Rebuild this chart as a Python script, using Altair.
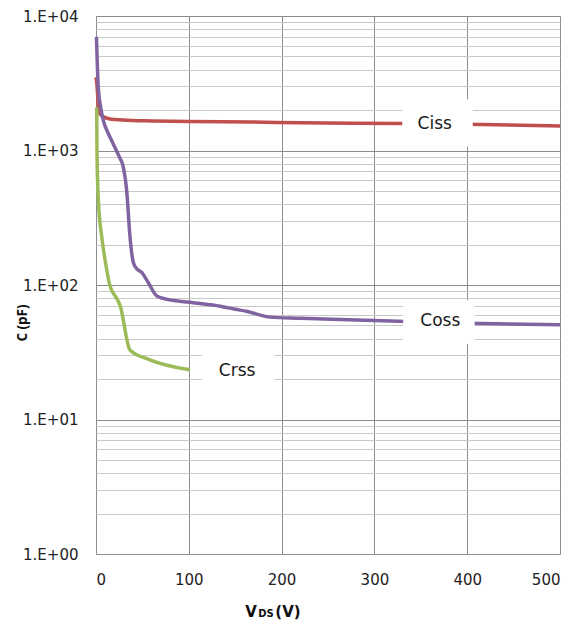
import altair as alt
import pandas as pd

# ---- data ----
ciss_v = [0, 0.8, 2.5, 4.3, 8, 15, 29, 61, 101, 169, 220, 330, 400, 500]
ciss_c = [3500, 3200, 2200, 1870, 1780, 1715, 1685, 1657, 1640, 1630, 1605, 1590, 1570, 1520]

coss_v = [0.5, 1.5, 2.5, 5, 8, 13, 18.6, 25, 29.4, 33, 36.6, 40.2, 44, 49.2, 56.4, 65.4, 72.5,
          101, 134, 150, 162, 187.5, 220, 300, 400, 500]
coss_c = [7000, 4200, 2900, 2100, 1660, 1350, 1120, 900, 755, 510, 230, 147, 132, 124, 104, 83, 79.5,
          74.3, 69.5, 66, 63.8, 57.7, 56.6, 54.5, 52, 50.6]

crss_v = [0.75, 1.1, 2.5, 6.1, 9.7, 15, 22, 25.9, 36.6, 58, 101]
crss_c = [2090, 945, 428, 231, 155, 99, 80, 70.6, 32.9, 27.8, 23.4]

series_names = ["Ciss", "Coss", "Crss"]
series_colors = ["#C0504D", "#8064A2", "#9BBB59"]

# label boxes (data units) and label anchor
label_text = ["Ciss", "Coss", "Crss"]
label_v = [365, 371, 152]
label_c = [1575, 53.8, 23.1]
box_v1 = [330, 331, 114]
box_v2 = [406, 408, 192]
box_c1 = [2400, 77, 37]
box_c2 = [1070, 36.5, 16]

x_ticks = [0, 100, 200, 300, 400, 500]
y_major = [1, 10, 100, 1000, 10000]
y_ticks = [m * 10 ** k for k in range(4) for m in range(1, 10)] + [10000]

rows = []
for name, vs, cs in [("Ciss", ciss_v, ciss_c), ("Coss", coss_v, coss_c), ("Crss", crss_v, crss_c)]:
    for i, (v, c) in enumerate(zip(vs, cs)):
        rows.append({"series": name, "V": v, "C": c, "order": i})
df = pd.DataFrame(rows)

labels_df = pd.DataFrame({"text": label_text, "V": label_v, "C": label_c,
                          "v1": box_v1, "v2": box_v2, "c1": box_c1, "c2": box_c2})

FONT = "DejaVu Sans"

xscale = alt.Scale(domain=[0, 500], nice=False, zero=False)
yscale = alt.Scale(type="log", domain=[1, 10000], nice=False)

major_test = "indexof([1,10,100,1000,10000], datum.value) >= 0"

x_axis = alt.Axis(values=x_ticks, title=None, grid=True, gridColor="#8C8C8C", gridWidth=1,
                  ticks=False, domain=False, labelFont=FONT, labelFontSize=15,
                  labelColor="#222222", labelPadding=18)
y_axis = alt.Axis(values=y_ticks, title=None, grid=True,
                  gridColor={"condition": {"test": major_test, "value": "#8C8C8C"}, "value": "#C8C8C8"},
                  gridWidth=1, ticks=False, domain=False, labelFont=FONT, labelFontSize=15,
                  labelColor="#222222", labelPadding=18, labelOverlap=False,
                  labelExpr=major_test + " ? '1.E+0' + round(log(datum.value)/LN10) : ''")

lines = alt.Chart(df).mark_line(strokeWidth=3.5, interpolate="monotone").encode(
    x=alt.X("V:Q", scale=xscale, axis=x_axis),
    y=alt.Y("C:Q", scale=yscale, axis=y_axis),
    color=alt.Color("series:N", scale=alt.Scale(domain=series_names, range=series_colors), legend=None),
    detail="series:N",
    order="order:Q",
)

ciss = lines.transform_filter("datum.series == 'Ciss'")
crss = lines.transform_filter("datum.series == 'Crss'")
coss = lines.transform_filter("datum.series == 'Coss'")

boxes = alt.Chart(labels_df).mark_rect(color="white", opacity=1).encode(
    x=alt.X("v1:Q", scale=xscale), x2="v2:Q",
    y=alt.Y("c1:Q", scale=yscale), y2="c2:Q",
)
texts = alt.Chart(labels_df).mark_text(font=FONT, fontSize=17, color="#1a1a1a",
                                       align="center", baseline="middle").encode(
    x=alt.X("V:Q", scale=xscale), y=alt.Y("C:Q", scale=yscale), text="text:N",
)

ytitle = alt.Chart(pd.DataFrame({"t": ["C (pF)"]})).mark_text(
    font="Open Sans", fontSize=13.5, fontWeight="bold", angle=270, color="#111111",
    align="center", baseline="middle").encode(
    text="t:N", x=alt.value(-73), y=alt.value(307))

xt1 = alt.Chart(pd.DataFrame({"t": ["V"]})).mark_text(
    font=FONT, fontSize=15, fontWeight="bold", color="#111111", align="center",
    baseline="alphabetic").encode(text="t:N", x=alt.value(155), y=alt.value(601))
xt2 = alt.Chart(pd.DataFrame({"t": ["DS"]})).mark_text(
    font=FONT, fontSize=10, fontWeight="bold", color="#111111", align="center",
    baseline="alphabetic").encode(text="t:N", x=alt.value(170), y=alt.value(601))
xt3 = alt.Chart(pd.DataFrame({"t": ["(V)"]})).mark_text(
    font=FONT, fontSize=15, fontWeight="bold", color="#111111", align="center",
    baseline="alphabetic").encode(text="t:N", x=alt.value(192), y=alt.value(601))

chart = alt.layer(ciss, crss, coss, boxes, texts, ytitle, xt1, xt2, xt3).properties(
    width=464, height=538,
    autosize=alt.AutoSizeParams(type="none"),
    padding={"left": 88, "top": 8, "right": 10, "bottom": 70},
).configure_view(stroke="#8C8C8C", strokeWidth=1.5).configure(background="white")

chart.save("out.html", embed_options={"renderer": "svg", "actions": False})
